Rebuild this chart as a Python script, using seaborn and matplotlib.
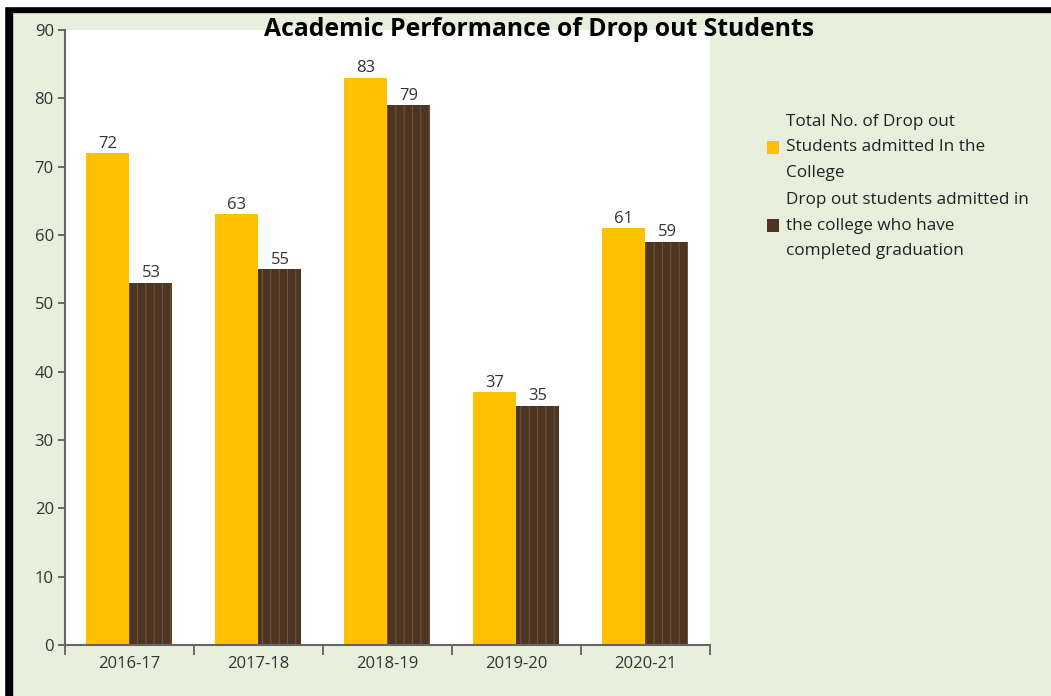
import pandas as pd
import numpy as np
import matplotlib.pyplot as plt
import seaborn as sns
from matplotlib.patches import Rectangle

years = ['2016-17', '2017-18', '2018-19', '2019-20', '2020-21']
admitted = [72, 63, 83, 37, 61]
graduated = [53, 55, 79, 35, 59]
series_names = ['Total No. of Drop out\nStudents admitted In the\nCollege',
                'Drop out students admitted in\nthe college who have\ncompleted graduation']

df = pd.DataFrame({
    'Year': years * 2,
    'Value': admitted + graduated,
    'Series': [series_names[0]] * len(years) + [series_names[1]] * len(years),
})

sns.set_theme(style="white")
plt.rcParams['font.family'] = ['Open Sans', 'DejaVu Sans']
plt.rcParams['hatch.linewidth'] = 0.6

bg = '#e8efdc'
fig = plt.figure(figsize=(10.51, 6.96), dpi=100, facecolor=bg)
ax = fig.add_axes([0.0618, 0.0733, 0.6137, 0.8837])
ax.set_facecolor('white')

sns.barplot(data=df, x='Year', y='Value', hue='Series', ax=ax,
            palette=['#ffc000', '#4d3524'], width=0.667, saturation=1,
            linewidth=0, errorbar=None)

# wood-ish grain on the brown bars
for bar in ax.containers[1]:
    bar.set_hatch('||')
    bar.set_edgecolor('#7b5b40')
    bar.set_linewidth(0)

for cont in ax.containers:
    ax.bar_label(cont, fontsize=12, color='#333333', padding=1)

ax.set_ylim(0, 90)
ax.set_xlim(-0.5, 4.5)
ax.set_yticks(range(0, 91, 10))
ax.set_xlabel('')
ax.set_ylabel('')
ax.tick_params(axis='y', which='major', direction='out', length=5, width=1.2,
               color='#555555', labelsize=12, labelcolor='#333333', pad=3, left=True)
ax.tick_params(axis='x', which='major', length=0, labelsize=12, labelcolor='#333333', pad=8)
ax.set_xticks(np.arange(-0.5, 5, 1), minor=True)
ax.tick_params(axis='x', which='minor', direction='out', length=7, width=1.2,
               color='#555555', bottom=True)

for s in ['top', 'right']:
    ax.spines[s].set_visible(False)
for s in ['left', 'bottom']:
    ax.spines[s].set_color('#666666')
    ax.spines[s].set_linewidth(1.5)

fig.text(0.513, 0.958, 'Academic Performance of Drop out Students', ha='center',
         va='center', fontsize=17.8, fontweight='bold', color='black')

leg = ax.legend(loc='upper left', bbox_to_anchor=(1.064, 0.888), frameon=False,
                fontsize=12.3, handlelength=0.75, handleheight=0.75, handletextpad=0.4,
                labelspacing=0.68, title=None)
for t in leg.get_texts():
    t.set_linespacing(1.77)
    t.set_color('#222222')

# black frame on top and left edges
fig.patches.append(Rectangle((4 / 1051, 0), 8 / 1051, 1 - 6 / 696, transform=fig.transFigure,
                             color='black', zorder=10))
fig.patches.append(Rectangle((4 / 1051, 1 - 12 / 696), 1, 6 / 696, transform=fig.transFigure,
                             color='black', zorder=10))
fig.patches.append(Rectangle((0, 0), 4 / 1051, 1, transform=fig.transFigure,
                             color='white', zorder=10))
fig.patches.append(Rectangle((0, 1 - 6 / 696), 1, 6 / 696, transform=fig.transFigure,
                             color='white', zorder=10))

plt.savefig('out.png', dpi=100, facecolor=bg)
